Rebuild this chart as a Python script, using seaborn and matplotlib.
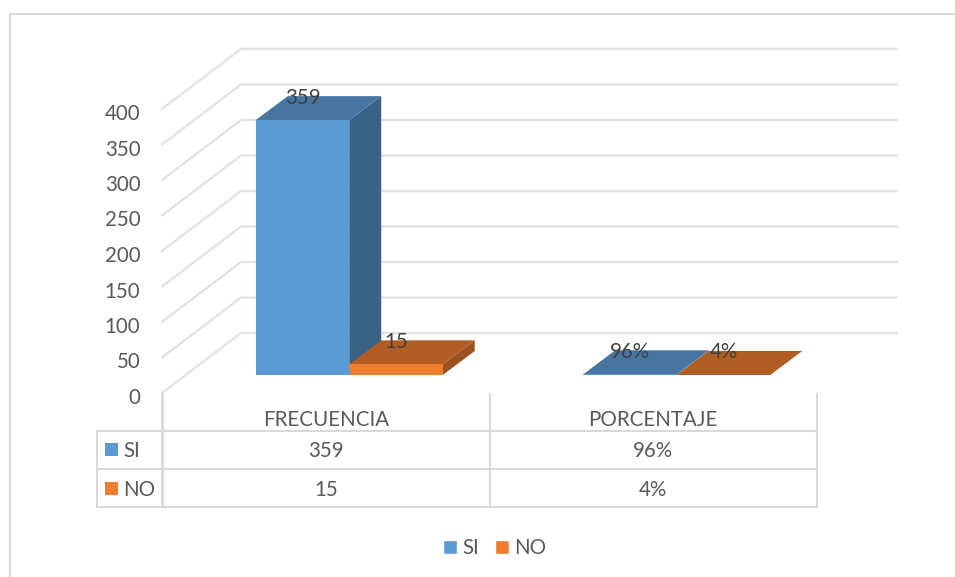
import pandas as pd
import matplotlib.pyplot as plt
import seaborn as sns
from matplotlib.patches import Polygon, Patch, Rectangle
from matplotlib.transforms import Affine2D

categorias = ['FRECUENCIA', 'PORCENTAJE']
series = ['SI', 'NO']
valores_si = [359, 0.96]
valores_no = [15, 0.04]
etiquetas_si = ['359', '96%']
etiquetas_no = ['15', '4%']
yticks = [0, 50, 100, 150, 200, 250, 300, 350, 400]

colores = {'SI': '#5B9BD5', 'NO': '#ED7D31'}
colores_top = {'SI': '#4775A1', 'NO': '#B15C22'}
colores_side = {'SI': '#386286', 'NO': '#9C5220'}
GRIS = '#D9D9D9'
GRIS_GRID = '#E2E2E2'
TEXTO = '#595959'
FS = 14.8

W, H = 955, 577
X0, X1 = 162, 817     # plano frontal en pixeles
Y0, Y400 = 393, 109
PX_X = (X1 - X0) / 2  # pixeles por categoria
PX_Y = (Y0 - Y400) / 400

sns.set_theme(style='white')
plt.rcParams['font.family'] = ['Lato', 'DejaVu Sans']

df = pd.DataFrame({
    'categoria': categorias * 2,
    'serie': [series[0]] * 2 + [series[1]] * 2,
    'valor': valores_si + valores_no,
})

fig = plt.figure(figsize=(W / 100, H / 100), dpi=100, facecolor='white')
ax = fig.add_axes([X0 / W, 1 - Y0 / H, (X1 - X0) / W, (Y0 - Y400) / H])
sns.barplot(data=df, x='categoria', y='valor', hue='serie', palette=colores,
            hue_order=series, order=categorias, width=0.571, gap=0,
            saturation=1, legend=False, ax=ax, zorder=3)
ax.set_xlim(-0.5, 1.5)
ax.set_ylim(0, 400)
ax.set_xlabel('')
ax.set_ylabel('')
ax.set_yticks(yticks)
ax.tick_params(axis='y', length=0, pad=15.5, labelsize=FS, labelcolor=TEXTO)
ax.tick_params(axis='x', length=0, pad=12, labelsize=FS, labelcolor=TEXTO)
for lbl in ax.get_yticklabels():
    lbl.set_transform(lbl.get_transform() + Affine2D().translate(0, -3))
sns.despine(ax=ax, left=True, bottom=True)

# --- paredes y suelo en perspectiva ---
wall_dx = 79 / PX_X
wall_dy = 60 / PX_Y
right_x = -0.5 + (897 - X0) / PX_X
for t in yticks:
    ax.plot([-0.5, -0.5 + wall_dx, right_x], [t, t + wall_dy, t + wall_dy],
            color=GRIS_GRID, lw=1.7, clip_on=False, zorder=1, solid_joinstyle='miter')

# --- profundidad de las barras ---
depth_x = 32 / PX_X
depth_y = 24 / PX_Y
lift = 18 / PX_Y
shift = 23.5 / PX_X
etiquetas = etiquetas_si + etiquetas_no
nombres = [series[0]] * 2 + [series[1]] * 2
for i, (bar, nombre, etiqueta) in enumerate(zip(ax.patches, nombres, etiquetas)):
    bar.set_x(bar.get_x() + shift)
    bar.set_y(lift)
    bar.set_clip_on(False)
    bar.set_linewidth(0)
    x0, x1 = bar.get_x(), bar.get_x() + bar.get_width()
    y0, y1 = lift, lift + bar.get_height()
    z = 3 + i * 0.1 if nombre == series[0] else 4
    ax.add_patch(Polygon([(x1, y0), (x1 + depth_x, y0 + depth_y),
                          (x1 + depth_x, y1 + depth_y), (x1, y1)],
                         facecolor=colores_side[nombre], lw=0, clip_on=False, zorder=z))
    ax.add_patch(Polygon([(x0, y1), (x1, y1), (x1 + depth_x, y1 + depth_y),
                          (x0 + depth_x, y1 + depth_y)],
                         facecolor=colores_top[nombre], lw=0, clip_on=False, zorder=z + 0.1))
    bar.set_zorder(z + 0.2)
    ax.text((x0 + x1) / 2, y1 + depth_y - 1.5 / PX_Y, etiqueta, ha='center', va='center',
            fontsize=FS, color='#404040', zorder=6, clip_on=False)

# --- marco, tabla de datos y leyenda ---
ov = fig.add_axes([0, 0, 1, 1], zorder=-1)
ov.set_xlim(0, W)
ov.set_ylim(H, 0)
ov.axis('off')
ov.plot([10, 10, W], [H, 13.5, 13.5], color=GRIS, lw=1.5)
for y in [431, 469, 507]:
    ov.plot([97, X1], [y, y], color=GRIS, lw=1.5)
ov.plot([97, 97], [431, 507], color=GRIS, lw=1.5)
ov.plot([X0, X0], [Y0, 507], color=GRIS, lw=2)
ov.plot([490, 490], [Y0, 507], color=GRIS, lw=1.5)
ov.plot([X1, X1], [Y0, 507], color=GRIS, lw=1.5)

filas = [449, 488]
for fila, nombre, textos in zip(filas, series, [etiquetas_si, etiquetas_no]):
    ov.add_patch(Rectangle((105, fila - 6.5), 13, 13, facecolor=colores[nombre], lw=0))
    ov.text(123.5, fila + 2, nombre, ha='left', va='center', fontsize=FS, color=TEXTO)
    for cx, txt in zip([326, 653], textos):
        ov.text(cx, fila + 2, txt, ha='center', va='center', fontsize=FS, color=TEXTO)

handles = [Patch(facecolor=colores[s], label=s) for s in series]
fig.legend(handles=handles, loc='center', bbox_to_anchor=(494.5 / W, 1 - 548 / H), ncol=2,
           frameon=False, fontsize=FS, labelcolor=TEXTO, handlelength=0.7, handleheight=0.7,
           handletextpad=0.25, columnspacing=0.75)

fig.savefig('out.png', dpi=100, facecolor='white')
